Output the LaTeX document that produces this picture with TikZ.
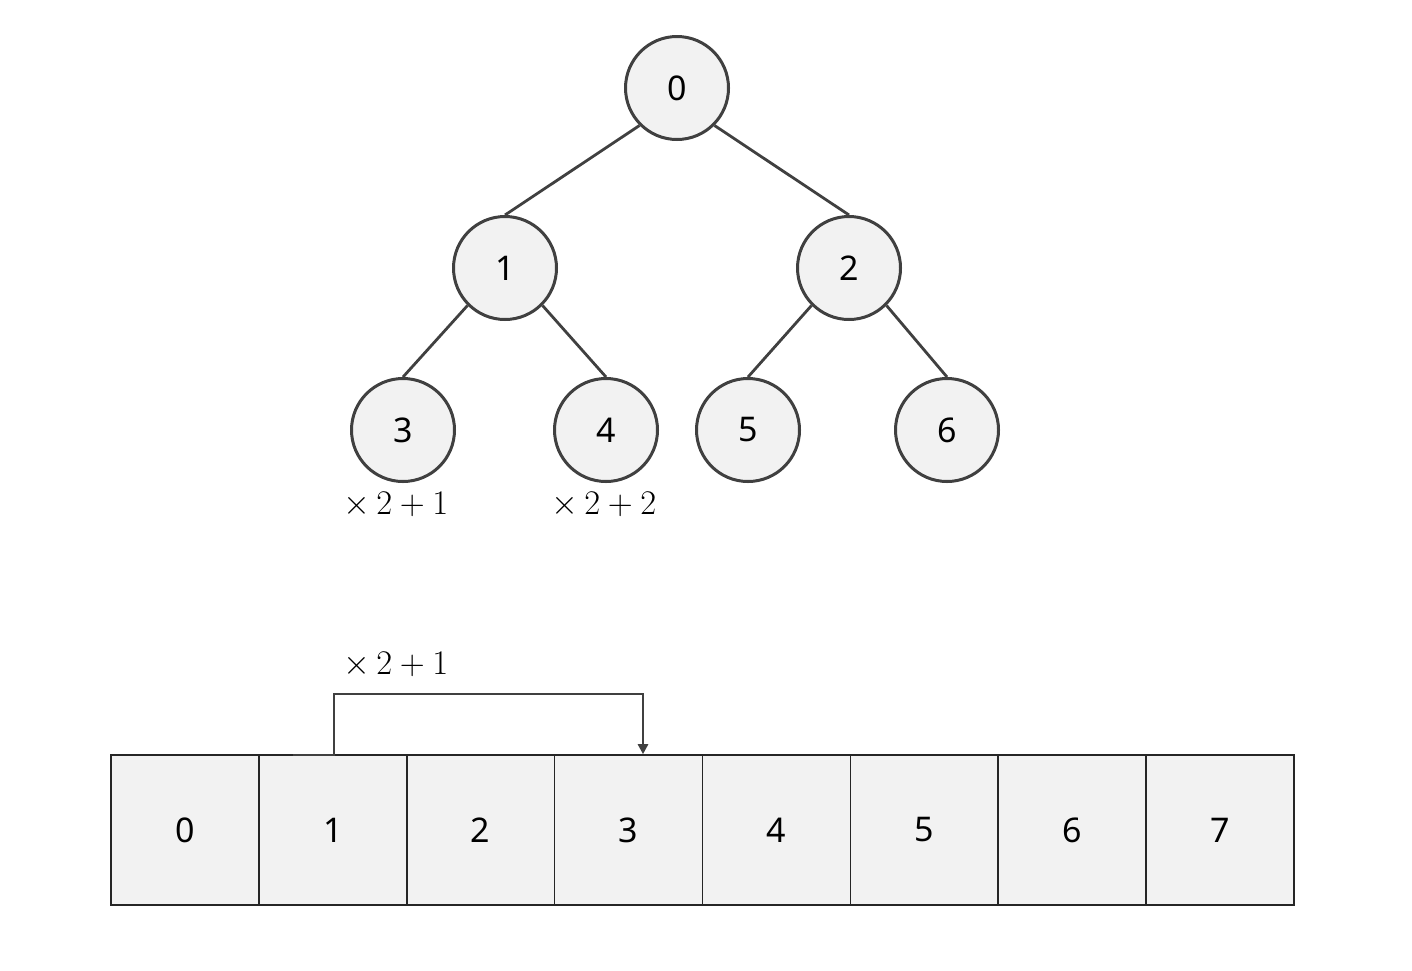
\documentclass[tikz,border=0pt]{standalone}
\usepackage{fontspec}
\setsansfont{Noto Sans}
\usetikzlibrary{arrows.meta}
\definecolor{cfill}{HTML}{F2F2F2}
\definecolor{cline}{HTML}{404040}
\tikzset{
  tnode/.style={circle,draw=cline,fill=cfill,line width=1.5pt,minimum size=51.5pt,inner sep=0pt,font=\sffamily\fontsize{17}{20}\selectfont},
  tedge/.style={draw=cline,line width=1.4pt},
  cell/.style={draw=black!85,fill=cfill,line width=0.8pt,minimum width=73.94pt,minimum height=75pt,inner sep=0pt,font=\sffamily\fontsize{17}{20}\selectfont},
  lbl/.style={font=\fontsize{19}{22}\selectfont},
  conn/.style={draw=cline,line width=1.4pt,-{Triangle[length=5pt,width=5pt]}}
}
\begin{document}
\begin{tikzpicture}[x=0.5pt,y=-0.5pt]
\useasboundingbox (0,0) rectangle (1412,970);
\node[tnode] (n0) at (677,88) {0};
\node[tnode] (n1) at (505,268) {1};
\node[tnode] (n2) at (849,268) {2};
\node[tnode] (n3) at (403,430) {3};
\node[tnode] (n4) at (606,430) {4};
\node[tnode] (n5) at (748,430) {5};
\node[tnode] (n6) at (947,430) {6};
\draw[tedge] (n0.south west) -- (n1.north);
\draw[tedge] (n0.south east) -- (n2.north);
\draw[tedge] (n1.south west) -- (n3.north);
\draw[tedge] (n1.south east) -- (n4.north);
\draw[tedge] (n2.south west) -- (n5.north);
\draw[tedge] (n2.south east) -- (n6.north);
\node[lbl] (l3) at (396,505) {$\times\,2+1$};
\node[lbl] (l4) at (604,505) {$\times\,2+2$};
\node[lbl] (la) at (396,665) {$\times\,2+1$};
\foreach \i in {0,...,7}{
  \node[cell] (c\i) at ({111+147.875*(\i+0.5)},830) {\i};
}
\coordinate (s) at (293,755);
\draw[conn] (s) -- (334,755) -- (334,694) -- (643,694) -- (c3.north -| 643,0);
\end{tikzpicture}
\end{document}
